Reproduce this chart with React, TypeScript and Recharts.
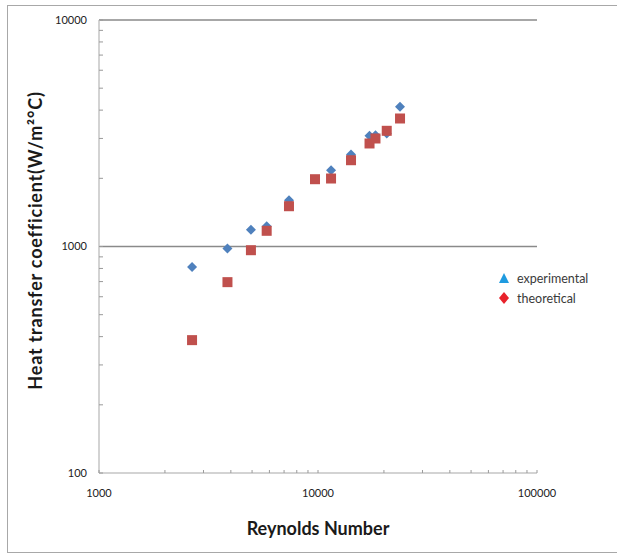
import * as React from "react";
import {
  ScatterChart,
  Scatter,
  XAxis,
  YAxis,
  ReferenceLine,
  Legend,
} from "recharts";

// Reynolds number / heat transfer coefficient
const reynoldsExp = [2660, 3860, 4940, 5830, 7370, 11470, 14150, 17190, 18300, 20600, 23690];
const hExp = [812, 980, 1185, 1229, 1601, 2172, 2548, 3082, 3101, 3154, 4139];

const reynoldsTheo = [2660, 3860, 4940, 5830, 7370, 9690, 11470, 14150, 17190, 18300, 20600, 23690];
const hTheo = [386, 696, 963, 1173, 1506, 1982, 1996, 2404, 2850, 2998, 3242, 3674];

const xMajor = [1000, 10000, 100000];
const xMinor = [2000, 3000, 4000, 5000, 6000, 7000, 8000, 9000, 20000, 30000, 40000, 50000, 60000, 70000, 80000, 90000];
const yMajor = [100, 1000, 10000];
const yMinor = [200, 300, 400, 500, 600, 700, 800, 900, 2000, 3000, 4000, 5000, 6000, 7000, 8000, 9000];
const gridValues = [1000, 10000];

const legendItems = [
  { label: "experimental", icon: "triangle", color: "#1f9be0" },
  { label: "theoretical", icon: "diamond", color: "#e8222b" },
];

const expData = reynoldsExp.map((re, i) => ({ re, h: hExp[i] }));
const theoData = reynoldsTheo.map((re, i) => ({ re, h: hTheo[i] }));

const FONT = "Lato, 'Open Sans', sans-serif";
const AXIS_GREY = "#c4c4c4";

const DiamondShape = (props: any) => {
  const { cx, cy } = props;
  const r = 5;
  return (
    <polygon
      points={`${cx},${cy - r} ${cx + r},${cy} ${cx},${cy + r} ${cx - r},${cy}`}
      fill="#4f81bd"
    />
  );
};

const SquareShape = (props: any) => {
  const { cx, cy } = props;
  return <rect x={cx - 5} y={cy - 5} width={10} height={10} fill="#c0504d" />;
};

const XTick = (props: any) => {
  const { x, y, payload } = props;
  const major = xMajor.includes(payload.value);
  return (
    <g>
      <line x1={x} x2={x} y1={y} y2={y - 3} stroke="#9a9a9a" />
      {major && (
        <text x={x} y={y + 20} textAnchor="middle" dy="0.35em" fontSize={11} fill="#222" fontFamily={FONT}>
          {payload.value}
        </text>
      )}
    </g>
  );
};

const YTick = (props: any) => {
  const { x, y, payload } = props;
  const major = yMajor.includes(payload.value);
  return (
    <g>
      <line x1={x} x2={x + 4} y1={y} y2={y} stroke="#9a9a9a" />
      {major && (
        <text x={x - 12} y={y} textAnchor="end" dy="0.35em" fontSize={11} fill="#222" fontFamily={FONT}>
          {payload.value}
        </text>
      )}
    </g>
  );
};

const renderLegend = () => (
  <div style={{ fontFamily: FONT, fontSize: 12.5, color: "#3a3a3a" }}>
    {legendItems.map((item) => (
      <div key={item.label} style={{ display: "flex", alignItems: "center", height: 20 }}>
        <svg width={14} height={12} style={{ marginRight: 6 }}>
          {item.icon === "triangle" ? (
            <polygon points="7,1 12,11 2,11" fill={item.color} />
          ) : (
            <polygon points="7,0 12,6 7,12 2,6" fill={item.color} />
          )}
        </svg>
        <span>{item.label}</span>
      </div>
    ))}
  </div>
);

export default function App() {
  const allX = [...xMajor, ...xMinor].sort((a, b) => a - b);
  const allY = [...yMajor, ...yMinor].sort((a, b) => a - b);
  return (
    <div style={{ position: "absolute", left: 0, top: 0, width: 617, height: 554, background: "#fff" }}>
      <div
        style={{
          position: "absolute",
          left: 7,
          top: 5,
          width: 620,
          height: 548,
          border: "1.5px solid #a8a8a8",
          boxSizing: "border-box",
        }}
      />
      <div style={{ position: "absolute", left: 0, top: 0 }}>
        <ScatterChart width={617} height={554} margin={{ top: 20, right: 80, bottom: 0, left: 0 }}>
          <XAxis
            dataKey="re"
            type="number"
            scale="log"
            domain={[1000, 100000]}
            ticks={allX}
            interval={0}
            tickSize={0}
            tickMargin={0}
            tickLine={false}
            tick={<XTick />}
            axisLine={{ stroke: AXIS_GREY, strokeWidth: 1.5 }}
            height={81}
            allowDataOverflow
            label={({ viewBox }: any) => (
              <text
                x={viewBox.x + viewBox.width / 2}
                y={viewBox.y + 56}
                textAnchor="middle"
                dy="0.35em"
                fontSize={18}
                fontWeight="bold"
                fill="#1a1a1a"
                fontFamily={FONT}
              >
                Reynolds Number
              </text>
            )}
          />
          <YAxis
            dataKey="h"
            type="number"
            scale="log"
            domain={[100, 10000]}
            ticks={allY}
            interval={0}
            tickSize={0}
            tickMargin={0}
            tickLine={false}
            tick={<YTick />}
            axisLine={{ stroke: AXIS_GREY, strokeWidth: 1.5 }}
            width={99}
            allowDataOverflow
            label={({ viewBox }: any) => {
              const cx = viewBox.x + 36;
              const cy = viewBox.y + viewBox.height / 2 - 6;
              return (
                <text
                  x={cx}
                  y={cy}
                  transform={`rotate(-90 ${cx} ${cy})`}
                  textAnchor="middle"
                  dy="0.35em"
                  fontSize={18}
                  fontWeight="bold"
                  letterSpacing={0.8}
                  fill="#1a1a1a"
                  fontFamily={FONT}
                >
                  Heat transfer coefficient(W/m²°C)
                </text>
              );
            }}
          />
          {gridValues.map((v) => (
            <ReferenceLine key={v} y={v} stroke="#8a8a8a" strokeWidth={1.6} ifOverflow="extendDomain" />
          ))}
          <Legend
            layout="vertical"
            align="center"
            verticalAlign="middle"
            content={renderLegend}
            wrapperStyle={{ position: "absolute", left: 497, top: 268, width: 120, height: 40 }}
          />
          <Scatter name="experimental" data={expData} shape={<DiamondShape />} isAnimationActive={false} />
          <Scatter name="theoretical" data={theoData} shape={<SquareShape />} isAnimationActive={false} />
        </ScatterChart>
      </div>
    </div>
  );
}
